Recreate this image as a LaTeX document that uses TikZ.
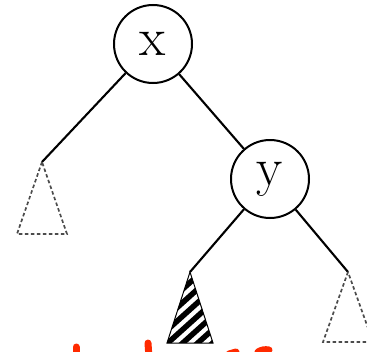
\documentclass[tikz,border=0pt]{standalone}
\usetikzlibrary{positioning}
\definecolor{InkRed}{HTML}{FF2A00}
\begin{document}
\begin{tikzpicture}[
    x=1pt, y=-1pt,
    key/.style={circle, draw, line width=2pt, minimum size=78pt, inner sep=0pt,
      font=\fontsize{54}{60}\selectfont},
    edge/.style={line width=2.1pt},
    ghost/.style={draw=black!70, line width=1.7pt, dash pattern=on 3.5pt off 2.5pt},
    ink/.style={draw=InkRed, line width=7pt, line cap=round}
  ]
    \useasboundingbox (0,0) rectangle (367,351);
    \clip (0,0) rectangle (367,351);

    %% Keys
    \node[key] (x) at (153,44) {x};
    \node[key] (y) at (270,179) {y};

    %% Subtree tips
    \coordinate (alpha) at (42,162);
    \coordinate (beta) at (190,272);
    \coordinate (gamma) at (348,272);

    %% Draw edges
    \draw[edge] (x) -- (alpha);
    \draw[edge] (x) -- (y);
    \draw[edge] (y) -- (beta);
    \draw[edge] (y) -- (gamma);

    %% Subtrees
    \draw[ghost] (alpha) -- ++(-25,72) -- ++(50,0) -- cycle;
    \draw[ghost] (gamma) -- ++(-25,70) -- ++(50,0) -- cycle;
    \begin{scope}
      \clip (beta) -- ++(-23,71) -- ++(46,0) -- cycle;
      \foreach \s in {-120,-105,...,30}
        \draw[line width=5.5pt] (190+\s,350) -- ++(100,-90);
    \end{scope}
    \draw[line width=1pt] (beta) -- ++(-23,71) -- ++(46,0) -- cycle;

    %% Red marks cut off at the bottom
    \draw[ink] (76,347) -- (76,358);
    \draw[ink] (148,343) -- (149,358);
    \draw[ink] (229,354) -- (236,352);
    \draw[ink] (258,352) to[bend left=20] (269,350);
  \end{tikzpicture}
\end{document}
